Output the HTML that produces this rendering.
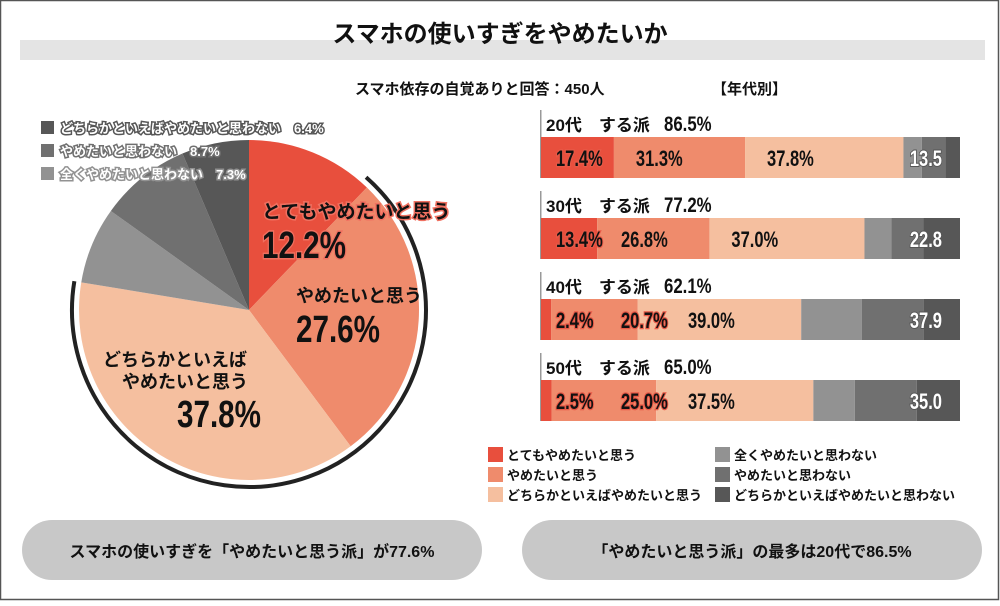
<!DOCTYPE html>
<html><head><meta charset="utf-8">
<style>
html,body{margin:0;padding:0;background:#fff}
body{width:1000px;height:601px;overflow:hidden;font-family:"Liberation Sans","Noto Sans CJK JP",sans-serif}
svg text{font-family:"Liberation Sans","Noto Sans CJK JP",sans-serif}
</style></head>
<body>
<svg id="chart" width="1000" height="601" viewBox="0 0 1000 601">
<rect x="0.5" y="0.5" width="998" height="599" fill="#fff" stroke="#555" stroke-width="1.5"/>
<rect x="20" y="40" width="965" height="20" fill="#e4e4e4"/>
<text x="500" y="42" text-anchor="middle" font-size="24" font-weight="bold" fill="#111">スマホの使いすぎをやめたいか</text>
<text x="355" y="94" font-size="15" font-weight="bold" fill="#111">スマホ依存の自覚ありと回答：450人</text>
<text x="712" y="94" font-size="15" font-weight="bold" fill="#111">【年代別】</text>
<g id="pie"></g>
<g id="bars"></g>
<g id="legend"></g>
<rect x="22" y="520" width="460" height="60" rx="30" fill="#c8c8c8"/>
<text x="252" y="557" text-anchor="middle" font-size="16" font-weight="bold" fill="#111">スマホの使いすぎを「やめたいと思う派」が77.6%</text>
<rect x="522" y="520" width="460" height="60" rx="30" fill="#c8c8c8"/>
<text x="752" y="557" text-anchor="middle" font-size="16" font-weight="bold" fill="#111">「やめたいと思う派」の最多は20代で86.5%</text>
</svg>
<script>
const NS="http://www.w3.org/2000/svg";
const categories=["とてもやめたいと思う","やめたいと思う","どちらかといえばやめたいと思う","全くやめたいと思わない","やめたいと思わない","どちらかといえばやめたいと思わない"];
const colors=["#e84f3d","#ef8b6c","#f5bf9f","#929292","#707070","#575757"];
const pieValues=[12.2,27.6,37.8,7.3,8.7,6.4];
const ageGroups=["20代","30代","40代","50代"];
const wantTotals=["86.5%","77.2%","62.1%","65.0%"];
const s1=[17.4,13.4,2.4,2.5];
const s2=[31.3,26.8,20.7,25.0];
const s3=[37.8,37.0,39.0,37.5];
const s4=[4.4,6.4,14.5,9.9];
const s5=[5.6,7.7,14.8,14.8];
const s6=[3.5,8.7,8.6,10.3];
const notTotals=["13.5","22.8","37.9","35.0"];

function mk(tag,attrs,parent,txt){const e=document.createElementNS(NS,tag);for(const k in attrs)e.setAttribute(k,attrs[k]);if(txt!==undefined)e.textContent=txt;parent.appendChild(e);return e;}

// pie
const pie=document.getElementById('pie');
const cx=249,cy=310,r=170;
const total=pieValues.reduce((a,b)=>a+b,0);
function pt(frac,rad){const a=frac*2*Math.PI-Math.PI/2;return [cx+rad*Math.cos(a),cy+rad*Math.sin(a)];}
let acc=0;
pieValues.forEach((v,i)=>{
  const f0=acc/total,f1=(acc+v)/total;acc+=v;
  const p0=pt(f0,r),p1=pt(f1,r);
  const s=mk('path',{d:`M${cx},${cy}L${p0[0]},${p0[1]}A${r},${r} 0 ${f1-f0>0.5?1:0} 1 ${p1[0]},${p1[1]}Z`,fill:colors[i]},pie);
  
  
});
const wantFrac=(pieValues[0]+pieValues[1]+pieValues[2])/total;
const rr=177,ra=pt(0.115,rr),rb=pt(wantFrac,rr);
const ring=mk('path',{d:`M${ra[0]},${ra[1]}A${rr},${rr} 0 ${wantFrac-0.115>0.5?1:0} 1 ${rb[0]},${rb[1]}`,fill:'none',stroke:'#222','stroke-width':4},pie);


const pl=[
 {x:262,y:218,t:categories[0],fs:19,stroke:true},
 {x:262,y:258,t:pieValues[0].toFixed(1)+'%',fs:38,stroke:true},
 {x:296,y:302,t:categories[1],fs:18},
 {x:296,y:342,t:pieValues[1].toFixed(1)+'%',fs:38},
 {x:103,y:366,t:'どちらかといえば',fs:18},
 {x:122,y:388,t:'やめたいと思う',fs:18},
 {x:177,y:427,t:pieValues[2].toFixed(1)+'%',fs:38}
];
pl.forEach((o,i)=>{
  const t=mk('text',{x:o.x,y:o.y,'font-size':o.fs,'font-weight':'bold',fill:'#111'},pie,o.t);
  if(o.fs>30){t.setAttribute('transform',`translate(${o.x},${o.y}) scale(0.78,1) translate(${-o.x},${-o.y})`);}
  if(o.stroke){t.setAttribute('stroke','#f07060');t.setAttribute('stroke-width','3');t.setAttribute('paint-order','stroke');}
  
  
});
[[5,'どちらかといえばやめたいと思わない　6.4%'],[4,'やめたいと思わない　8.7%'],[3,'全くやめたいと思わない　7.3%']].forEach((d,k)=>{
  const y=121+k*23;
  const sq=mk('rect',{x:41,y:y,width:13,height:13,fill:colors[d[0]]},pie);
  
  
  const tx=mk('text',{x:60,y:y+12,'font-size':13,'font-weight':'bold',fill:'#fff',stroke:colors[d[0]],'stroke-width':3,'paint-order':'stroke'},pie,d[1]);
  
  
});

// bars
const bars=document.getElementById('bars');
const bx0=541,bx1=960,bw=bx1-bx0;
const xs=v=>v/100*bw;
const rowY=[137,218,299,380],bh=41;
const series=[s1,s2,s3,s4,s5,s6];
ageGroups.forEach((g,i)=>{
  const y=rowY[i];
  const ln=mk('rect',{x:540,y:y-27,width:1.5,height:bh+27,fill:'#999'},bars);
  
  
  const h=mk('text',{x:546,y:y-6,'font-size':17,'font-weight':'bold',fill:'#111'},bars,g+'　する派 ');
  
  
  const ht=mk('text',{x:664,y:y-6,'font-size':21,'font-weight':'bold',fill:'#111',transform:`translate(664,${y-6}) scale(0.8,1) translate(-664,${-(y-6)})`},bars,wantTotals[i]);
  
  
  let x=bx0;
  const starts=[];
  series.forEach((s,j)=>{
    const w=xs(s[i]);
    starts.push(x);
    const b=mk('rect',{x:x,y:y,width:w,height:bh,fill:colors[j]},bars);
    
    
    x+=w;
  });
  for(let j=0;j<3;j++){
    const v=series[j][i];
    let lx;
    if(j===0) lx=556;
    else if(j===1) lx=Math.max(starts[1]+22,621);
    else lx=Math.max(starts[2]+22,688);
    const tx=mk('text',{x:lx,y:y+29,'font-size':22,'font-weight':'bold',fill:'#111',transform:`translate(${lx},${y+29}) scale(0.75,1) translate(${-lx},${-(y+29)})`},bars,v.toFixed(1)+'%');
    if(j===0||(i>=2&&j===1)){tx.setAttribute('stroke','#e85a48');tx.setAttribute('stroke-width','2.5');tx.setAttribute('paint-order','stroke');}
    
    
  }
  const nt=mk('text',{x:942,y:y+29,'text-anchor':'end','font-size':22,'font-weight':'bold',fill:'#fff',stroke:'#555','stroke-width':2,'paint-order':'stroke',transform:`translate(942,${y+29}) scale(0.75,1) translate(-942,${-(y+29)})`},bars,notTotals[i]);
  
  
});

// legend
const lg=document.getElementById('legend');
categories.forEach((c,i)=>{
  const col=i<3?0:1,row=i%3;
  const x=col?715:488,y=447+row*20;
  const sq=mk('rect',{x:x,y:y,width:15,height:15,fill:colors[i]},lg);
  
  
  const t=mk('text',{x:x+19,y:y+13,'font-size':13,'font-weight':'bold',fill:'#111'},lg,c);
  
  
});
</script>
</body></html>
